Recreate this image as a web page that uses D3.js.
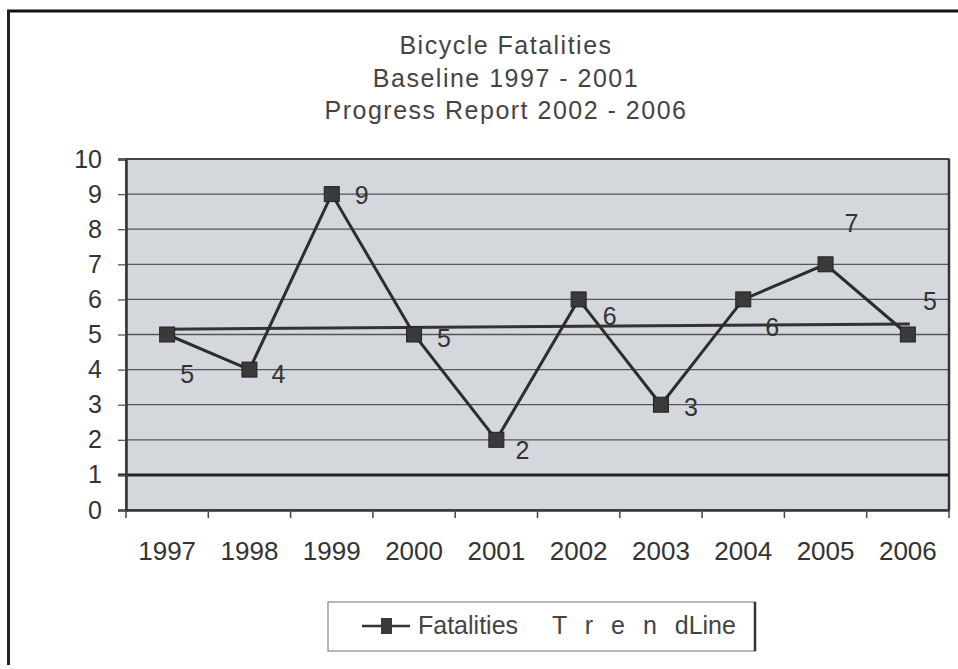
<!DOCTYPE html>
<html><head><meta charset="utf-8">
<script src="https://cdn.jsdelivr.net/npm/d3@7"></script>
<style>
body{margin:0;background:#fff;}
text{font-family:"Liberation Sans",Arial,sans-serif;}
</style></head>
<body><svg id="c" width="958" height="669"></svg>
<script>
const titleLines = ["Bicycle Fatalities", "Baseline 1997 - 2001", "Progress Report 2002 - 2006"];
const years = ["1997","1998","1999","2000","2001","2002","2003","2004","2005","2006"];
const fatalities = [5,4,9,5,2,6,3,6,7,5];
const trendEnds = [5.15, 5.3];
const targetLevel = 1;
const yTicks = [0,1,2,3,4,5,6,7,8,9,10];
const legendLabels = ["Fatalities", "T r e n dLine"];
// label offsets (dx, dy) of label centre relative to marker, layout only
const labelOffsets = [[20,39],[29,4],[30,1],[30,3],[26,10],[31,17],[30,2],[29,28],[26,-41],[22,-34]];

const svg = d3.select("#c");
const m = {l:126, r:949, t:159, b:510};
const x = d3.scaleBand().domain(years).range([m.l, m.r]).padding(0);
const y = d3.scaleLinear().domain([0,10]).range([m.b, m.t]);
const cx = d => x(d) + x.bandwidth()/2;

// outer frame
svg.append("line").attr("x1",7).attr("x2",958).attr("y1",11).attr("y2",11).attr("stroke","#111").attr("stroke-width",3);
svg.append("line").attr("x1",8.5).attr("x2",8.5).attr("y1",10).attr("y2",665).attr("stroke","#222").attr("stroke-width",3);

// title
svg.append("g").selectAll("text").data(titleLines).join("text")
  .attr("x", 506).attr("y",(d,i)=>54+i*32.5).attr("text-anchor","middle")
  .attr("font-size",25).attr("letter-spacing",1.5).attr("fill","#444").text(d=>d);

// plot bg
svg.append("rect").attr("x",m.l).attr("y",m.t).attr("width",m.r-m.l).attr("height",m.b-m.t)
  .attr("fill","#d4d7dc").attr("stroke","#555").attr("stroke-width",1.5);

// gridlines
svg.append("g").selectAll("line").data(yTicks.filter(v=>v>0&&v<10)).join("line")
  .attr("x1",m.l).attr("x2",m.r).attr("y1",d=>y(d)).attr("y2",d=>y(d))
  .attr("stroke","#555").attr("stroke-width",1.3);
svg.append("line").attr("x1",m.l).attr("x2",m.r).attr("y1",y(10)).attr("y2",y(10)).attr("stroke","#444").attr("stroke-width",2);
svg.append("line").attr("x1",m.r).attr("x2",m.r).attr("y1",m.t).attr("y2",m.b).attr("stroke","#333").attr("stroke-width",2.5);

// target line at 1
svg.append("line").attr("x1",m.l-8).attr("x2",m.r).attr("y1",y(targetLevel)).attr("y2",y(targetLevel))
  .attr("stroke","#222").attr("stroke-width",3);

// axes
const yAxis = svg.append("g").attr("transform",`translate(${m.l},0)`)
  .call(d3.axisLeft(y).tickValues(yTicks).tickSize(8).tickPadding(16).tickFormat(d3.format("d")));
yAxis.select(".domain").attr("stroke","#333").attr("stroke-width",2.5);
yAxis.selectAll(".tick line").attr("stroke","#555").attr("stroke-width",1.3);
yAxis.selectAll("text").attr("font-size",25).attr("fill","#333").attr("font-family","Liberation Sans, Arial");

const xAxis = svg.append("g").attr("transform",`translate(0,${m.b})`)
  .call(d3.axisBottom(x).tickSize(0).tickPadding(32));
xAxis.select(".domain").attr("stroke","#333").attr("stroke-width",2.5);
xAxis.selectAll("text").attr("font-size",26).attr("fill","#333").attr("font-family","Liberation Sans, Arial");
// category boundary ticks
svg.append("g").selectAll("line").data(d3.range(years.length+1)).join("line")
  .attr("x1",i=>m.l+i*x.step()).attr("x2",i=>m.l+i*x.step())
  .attr("y1",m.b).attr("y2",m.b+8).attr("stroke","#444").attr("stroke-width",1.5);

// trend line
svg.append("line")
  .attr("x1",cx(years[0])-4).attr("x2",cx(years[years.length-1])+2)
  .attr("y1",y(trendEnds[0])).attr("y2",y(trendEnds[1]))
  .attr("stroke","#333").attr("stroke-width",3);

// data line
const line = d3.line().x((d,i)=>cx(years[i])).y(d=>y(d));
svg.append("path").datum(fatalities).attr("d",line).attr("fill","none")
  .attr("stroke","#2d2d2d").attr("stroke-width",3);
svg.append("g").selectAll("rect").data(fatalities).join("rect")
  .attr("x",(d,i)=>cx(years[i])-7.5).attr("y",d=>y(d)-7.5).attr("width",15).attr("height",15)
  .attr("fill","#3a3a3a").attr("stroke","#222").attr("stroke-width",1);

// data labels
svg.append("g").selectAll("text").data(fatalities).join("text")
  .attr("x",(d,i)=>cx(years[i])+labelOffsets[i][0]).attr("y",(d,i)=>y(d)+labelOffsets[i][1]+9)
  .attr("text-anchor","middle").attr("font-size",25).attr("fill","#333").text(d=>d);

// legend
const lg = svg.append("g");
lg.append("rect").attr("x",328).attr("y",602).attr("width",427).attr("height",49)
  .attr("fill","#fff").attr("stroke","#888").attr("stroke-width",1.2);
lg.append("line").attr("x1",755).attr("x2",755).attr("y1",602).attr("y2",651).attr("stroke","#333").attr("stroke-width",2.5);
lg.append("line").attr("x1",362).attr("x2",410).attr("y1",626).attr("y2",626).attr("stroke","#333").attr("stroke-width",2.5);
lg.append("rect").attr("x",381).attr("y",618).attr("width",11).attr("height",16).attr("fill","#3a3a3a");
lg.append("text").attr("x",418).attr("y",634).attr("font-size",25).attr("fill","#444").text(legendLabels[0]);
lg.append("text").attr("x",552).attr("y",634).attr("font-size",25).attr("fill","#444")
  .attr("word-spacing",11).attr("xml:space","preserve").style("white-space","pre").text(legendLabels[1]);
</script></body></html>
